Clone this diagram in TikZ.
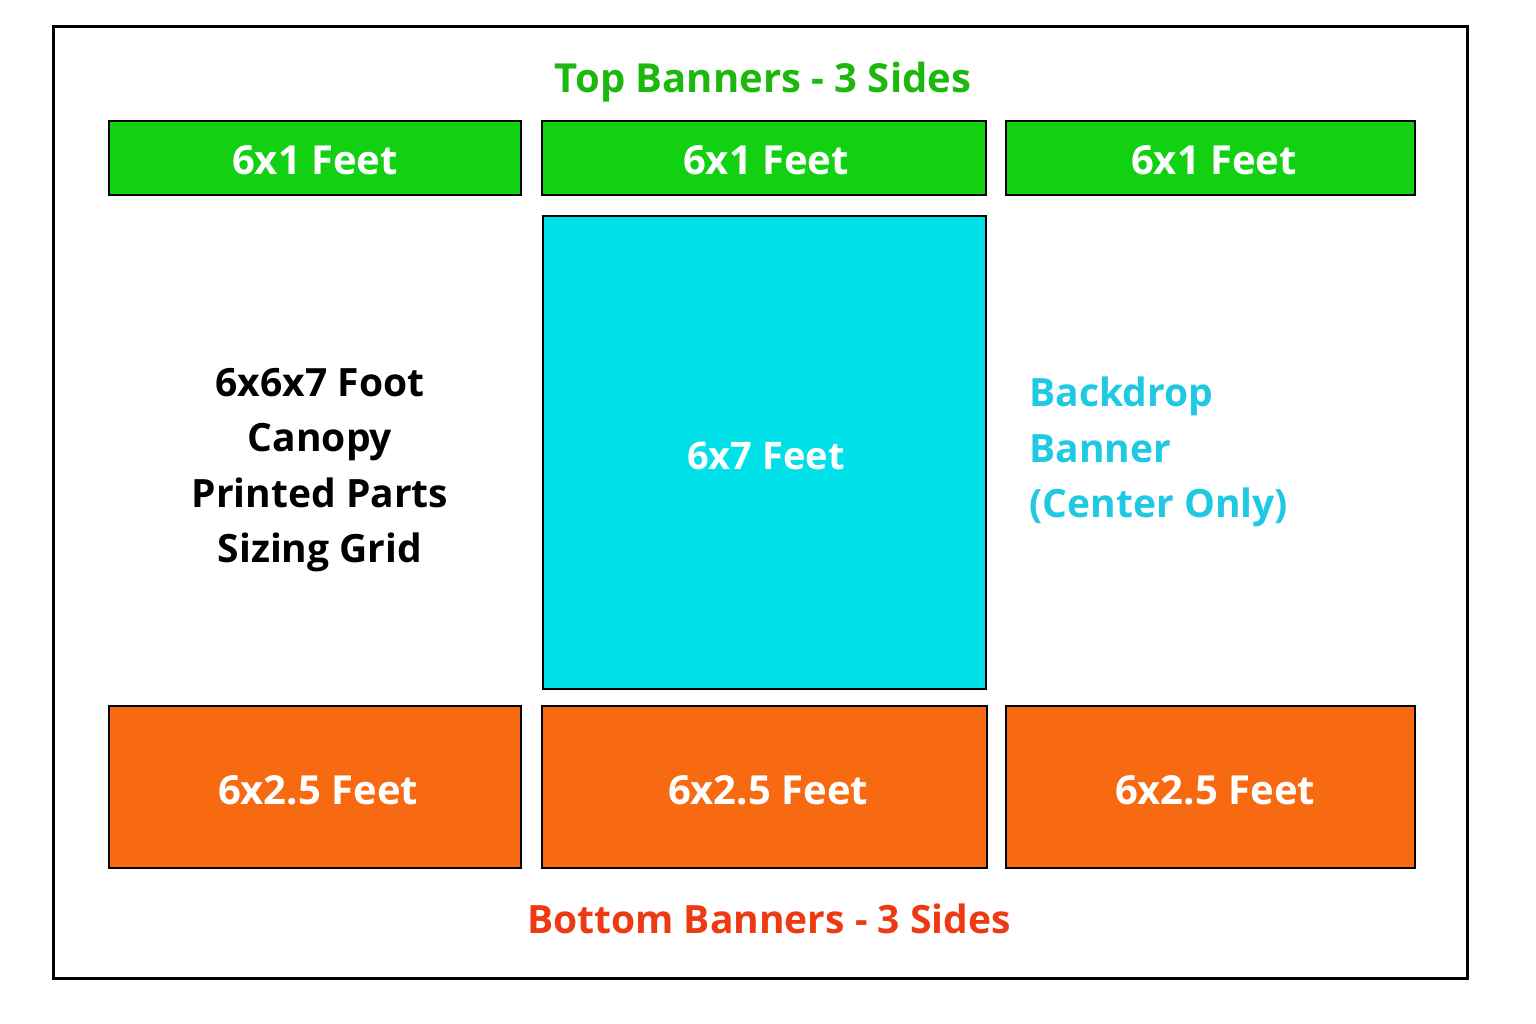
\documentclass[tikz,border=0pt]{standalone}
\usepackage{fontspec}
\setmainfont{Open Sans}
\definecolor{gfill}{HTML}{12D012}
\definecolor{gtext}{HTML}{1DB80E}
\definecolor{cfill}{HTML}{00E0E8}
\definecolor{ctext}{HTML}{1FC8E3}
\definecolor{ofill}{HTML}{F86A12}
\definecolor{otext}{HTML}{EE3A12}
\tikzset{
  box/.style={draw=black, line width=2.5pt, inner sep=0pt},
  greenbox/.style={box, fill=gfill},
  orangebox/.style={box, fill=ofill},
  cyanbox/.style={box, fill=cfill},
  lbl/.style={text=white, font=\bfseries\fontsize{40}{48}\selectfont},
  title/.style={font=\bfseries\fontsize{40}{48}\selectfont},
  side/.style={font=\bfseries\fontsize{39}{55.5}\selectfont}
}
\begin{document}
\begin{tikzpicture}[x=1pt,y=-1pt]
\useasboundingbox (0,0) rectangle (1536,1024);
\fill[white] (0,0) rectangle (1536,1024);
\draw[line width=3pt] (53,27) rectangle (1467,978);
% top banners
\draw[greenbox] (109,121) rectangle (521,195);
\draw[greenbox] (542,121) rectangle (986,195);
\draw[greenbox] (1006,121) rectangle (1415,195);
\node[lbl] (t1) at (315,160) {6x1 Feet};
\node[lbl] (t2) at (766,160) {6x1 Feet};
\node[lbl] (t3) at (1214,160) {6x1 Feet};
% backdrop
\draw[cyanbox] (543,216) rectangle (986,689);
\node[lbl, font=\bfseries\fontsize{38}{46}\selectfont] (bd) at (766,456) {6x7 Feet};
% bottom banners
\draw[orangebox] (109,706) rectangle (521,868);
\draw[orangebox] (542,706) rectangle (987,868);
\draw[orangebox] (1006,706) rectangle (1415,868);
\node[lbl] (b1) at (318,790) {6x2.5 Feet};
\node[lbl] (b2) at (768,790) {6x2.5 Feet};
\node[lbl] (b3) at (1215,790) {6x2.5 Feet};
% titles
\node[title, text=gtext] (toptitle) at (763,82) {Top Banners - 3 Sides};
\node[title, text=otext, font=\bfseries\fontsize{39}{46}\selectfont] (bottitle) at (769,919) {Bottom Banners - 3 Sides};
% side texts
\node[side, align=center, text=black] (left) at (320,470) {6x6x7 Foot\\Canopy\\Printed Parts\\Sizing Grid};
\node[side, align=left, text=ctext, anchor=west] (right) at (1026,452) {Backdrop\\Banner\\(Center Only)};
\end{tikzpicture}
\end{document}
